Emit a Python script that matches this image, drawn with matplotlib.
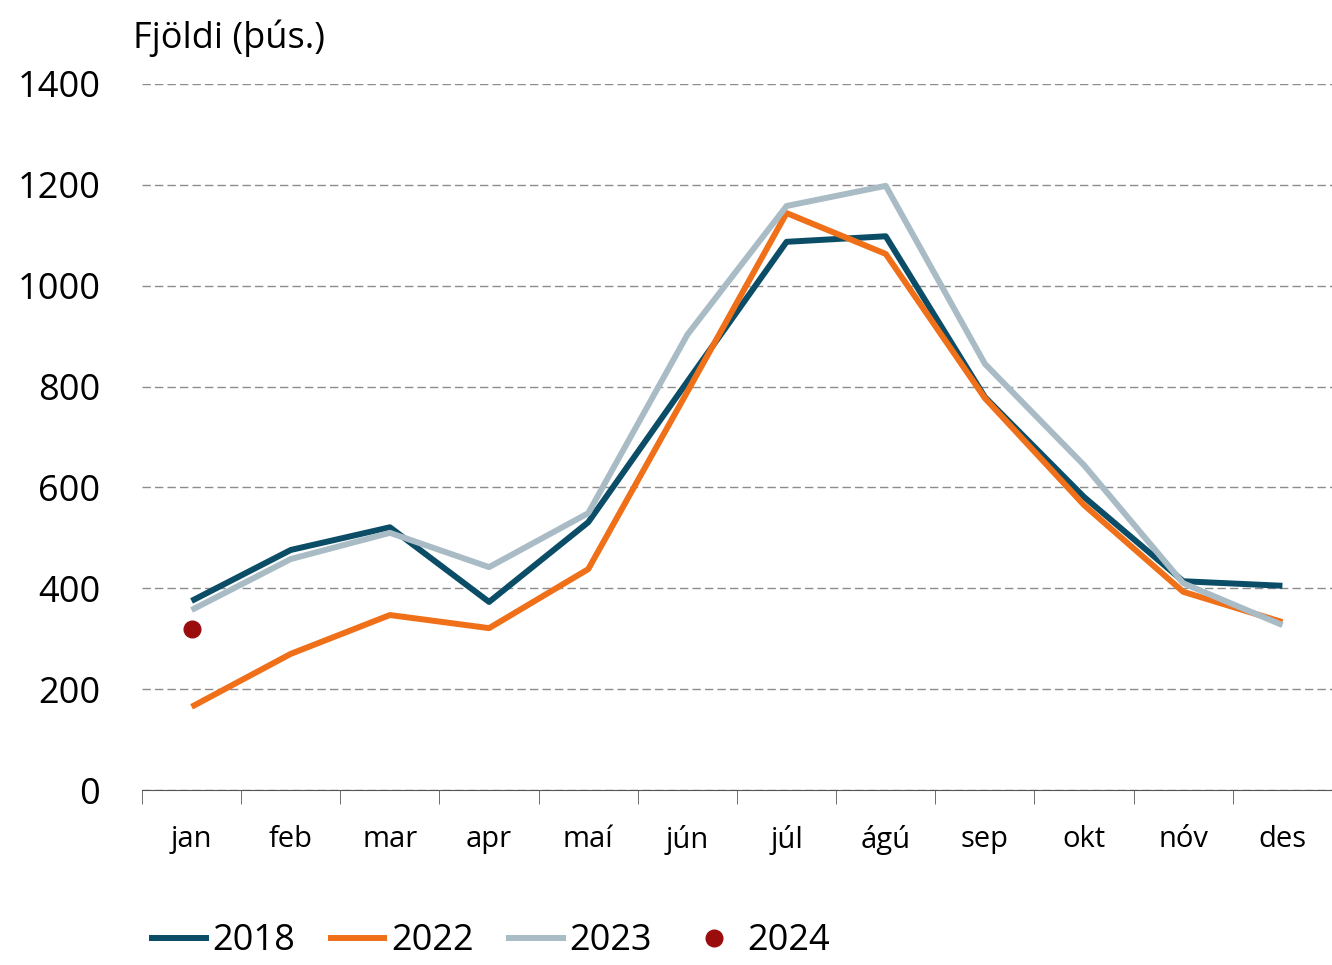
import numpy as np
import matplotlib.pyplot as plt

plt.rcParams['font.family'] = ['Open Sans', 'DejaVu Sans']

months = ['jan', 'feb', 'mar', 'apr', 'maí', 'jún', 'júl', 'ágú', 'sep', 'okt', 'nóv', 'des']
y2018 = [375, 476, 521, 373, 531, 810, 1087, 1098, 779, 581, 414, 405]
y2022 = [165, 270, 347, 321, 438, 790, 1144, 1063, 777, 565, 393, 333]
y2023 = [357, 458, 510, 442, 549, 903, 1158, 1198, 845, 644, 410, 327]
y2024 = [319]

fig = plt.figure(figsize=(13.32, 9.65), dpi=100)
ax = fig.add_axes([0.1066, 0.1813, 0.8934, 0.7317])

x = np.arange(len(months))
ax.plot(x, y2018, color='#0b4d66', lw=4.3, label='2018', solid_capstyle='butt')
ax.plot(x, y2022, color='#f07019', lw=4.3, label='2022', solid_capstyle='butt')
ax.plot(x, y2023, color='#a9bcc6', lw=4.3, label='2023', solid_capstyle='butt')
ax.plot(x[:len(y2024)], y2024, 'o', color='#9b0d0d', ms=12, label='2024', lw=0)

ax.set_xlim(-0.5, 11.5)
ax.set_ylim(0, 1400)
ax.set_yticks(range(0, 1401, 200))
ax.yaxis.grid(True, ls=(0, (6, 3)), color='#8c8c8c', lw=1)
ax.set_axisbelow(True)
for s in ['top', 'right', 'left']:
    ax.spines[s].set_visible(False)
ax.spines['bottom'].set_color('#555555')
ax.tick_params(axis='y', length=0, labelsize=26, pad=30)
ax.set_xticks(x)
ax.set_xticklabels(months)
ax.set_xticks(np.arange(-0.5, 12, 1), minor=True)
ax.tick_params(axis='x', which='major', length=0, labelsize=21, pad=25)
ax.tick_params(axis='x', which='minor', length=10, color='#555555', direction='out')

fig.text(0.1, 0.96, 'Fjöldi (þús.)', fontsize=26, va='center', ha='left')

ax.legend(loc='center left', bbox_to_anchor=(0.006, -0.214), ncol=4, frameon=False,
          fontsize=26, handlelength=1.65, handletextpad=0.1, columnspacing=0.9,
          borderaxespad=0, borderpad=0)

fig.savefig('out.png', dpi=100)
